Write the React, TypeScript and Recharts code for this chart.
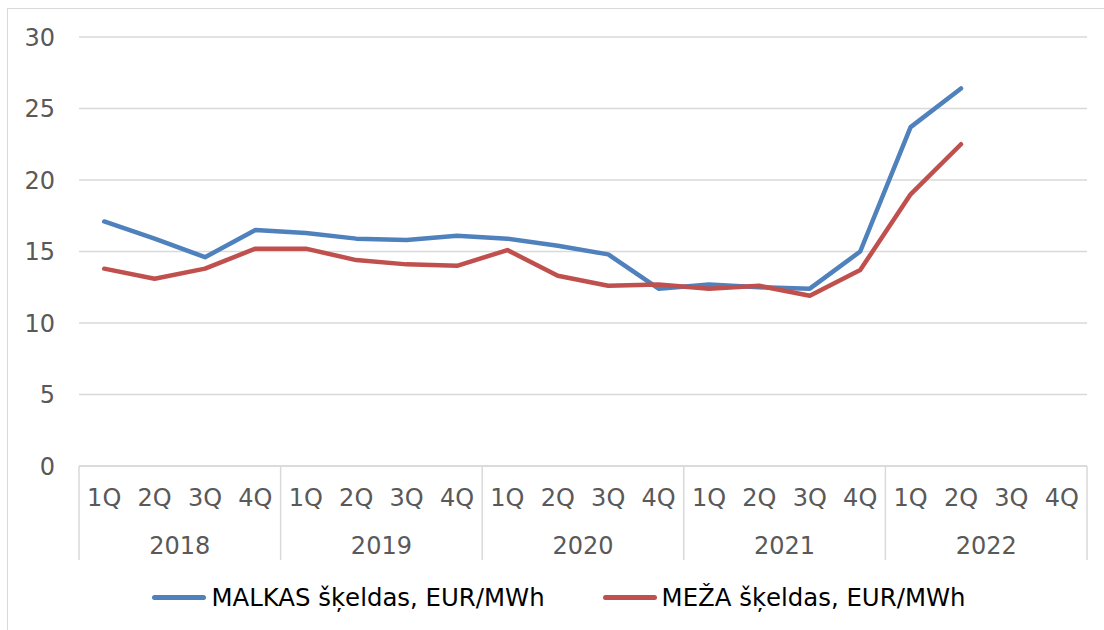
import React from 'react';
import { LineChart, Line, XAxis, YAxis, CartesianGrid, Legend } from 'recharts';

const QUARTERS = ['1Q', '2Q', '3Q', '4Q', '1Q', '2Q', '3Q', '4Q', '1Q', '2Q', '3Q', '4Q', '1Q', '2Q', '3Q', '4Q', '1Q', '2Q', '3Q', '4Q'];
const YEARS = ['2018', '2019', '2020', '2021', '2022'];
const MALKAS = [17.1, 15.9, 14.6, 16.5, 16.3, 15.9, 15.8, 16.1, 15.9, 15.4, 14.8, 12.4, 12.7, 12.5, 12.4, 15.0, 23.7, 26.4, null, null];
const MEZA = [13.8, 13.1, 13.8, 15.2, 15.2, 14.4, 14.1, 14.0, 15.1, 13.3, 12.6, 12.7, 12.4, 12.6, 11.9, 13.7, 19.0, 22.5, null, null];
const Y_TICKS = [0, 5, 10, 15, 20, 25, 30];

const SERIES = [
  { key: 'malkas', name: 'MALKAS šķeldas, EUR/MWh', color: '#4F81BD' },
  { key: 'meza', name: 'MEŽA šķeldas, EUR/MWh', color: '#C0504D' },
];

const W = 1104;
const H = 630;
const MARGIN = { top: 37, right: 17, left: 0, bottom: 0 };
const Y_AXIS_W = 79;
const X_AXIS_H = 94;
const LEGEND_H = 70;
const FONT = '"DejaVu Sans", Verdana, sans-serif';
const TEXT = '#595959';
const GRID = '#d9d9d9';

const data = QUARTERS.map((q, i) => ({
  id: i,
  q,
  year: YEARS[Math.floor(i / 4)],
  malkas: MALKAS[i],
  meza: MEZA[i],
}));

const BAND = (W - MARGIN.left - MARGIN.right - Y_AXIS_W) / QUARTERS.length;

// quarter label, plus year label and group separators under each 4-quarter block
const QuarterTick = (props: any) => {
  const { x, y, payload } = props;
  const i = payload.value;
  return (
    <g>
      <text x={x} y={y + 40} textAnchor="middle" fill={TEXT} fontSize={24} fontFamily={FONT}>
        {QUARTERS[i]}
      </text>
      {i % 4 === 0 && (
        <>
          <line x1={x - BAND / 2} x2={x - BAND / 2} y1={y} y2={y + X_AXIS_H} stroke={GRID} strokeWidth={1.5} />
          <text x={x + BAND * 1.5} y={y + 88} textAnchor="middle" fill={TEXT} fontSize={24} fontFamily={FONT}>
            {data[i].year}
          </text>
        </>
      )}
      {i === QUARTERS.length - 1 && (
        <line x1={x + BAND / 2} x2={x + BAND / 2} y1={y} y2={y + X_AXIS_H} stroke={GRID} strokeWidth={1.5} />
      )}
    </g>
  );
};

const renderLegend = () => (
  <div style={{ width: W, height: LEGEND_H, display: 'flex', alignItems: 'center', justifyContent: 'center', paddingTop: 4, paddingLeft: 14, boxSizing: 'border-box', gap: 58, fontFamily: FONT, fontSize: 24.4, color: '#000' }}>
    {SERIES.map((s) => (
      <div key={s.key} style={{ display: 'flex', alignItems: 'center', gap: 5 }}>
        <div style={{ width: 54, height: 5, borderRadius: 3, background: s.color }} />
        <span>{s.name}</span>
      </div>
    ))}
  </div>
);

export default function App() {
  return (
    <div style={{ position: 'absolute', left: 0, top: 0, width: W, height: H, overflow: 'hidden', background: '#fff', fontFamily: FONT }}>
      <div style={{ position: 'absolute', left: 7, top: 8, width: W + 20, height: H + 20, border: `1.5px solid ${GRID}` }} />
      <LineChart width={W} height={H} data={data} margin={MARGIN}>
        <CartesianGrid vertical={false} stroke={GRID} strokeWidth={1.5} />
        <XAxis
          dataKey="id"
          type="category"
          padding={{ left: BAND / 2, right: BAND / 2 }}
          interval={0}
          height={X_AXIS_H}
          axisLine={{ stroke: GRID, strokeWidth: 1.5 }}
          tickLine={false}
          tickSize={0}
          tickMargin={0}
          tick={<QuarterTick />}
        />
        <YAxis
          width={Y_AXIS_W}
          domain={[0, 30]}
          ticks={Y_TICKS}
          axisLine={false}
          tickLine={false}
          tickSize={6}
          tickMargin={18}
          tick={{ fill: TEXT, fontSize: 24, fontFamily: FONT }}
        />
        <Legend verticalAlign="bottom" height={LEGEND_H} content={renderLegend} wrapperStyle={{ left: 0, width: W }} />
        {SERIES.map((s) => (
          <Line
            key={s.key}
            type="linear"
            dataKey={s.key}
            name={s.name}
            stroke={s.color}
            strokeWidth={4.5}
            strokeLinecap="round"
            strokeLinejoin="round"
            dot={false}
            activeDot={false}
            isAnimationActive={false}
          />
        ))}
      </LineChart>
    </div>
  );
}
